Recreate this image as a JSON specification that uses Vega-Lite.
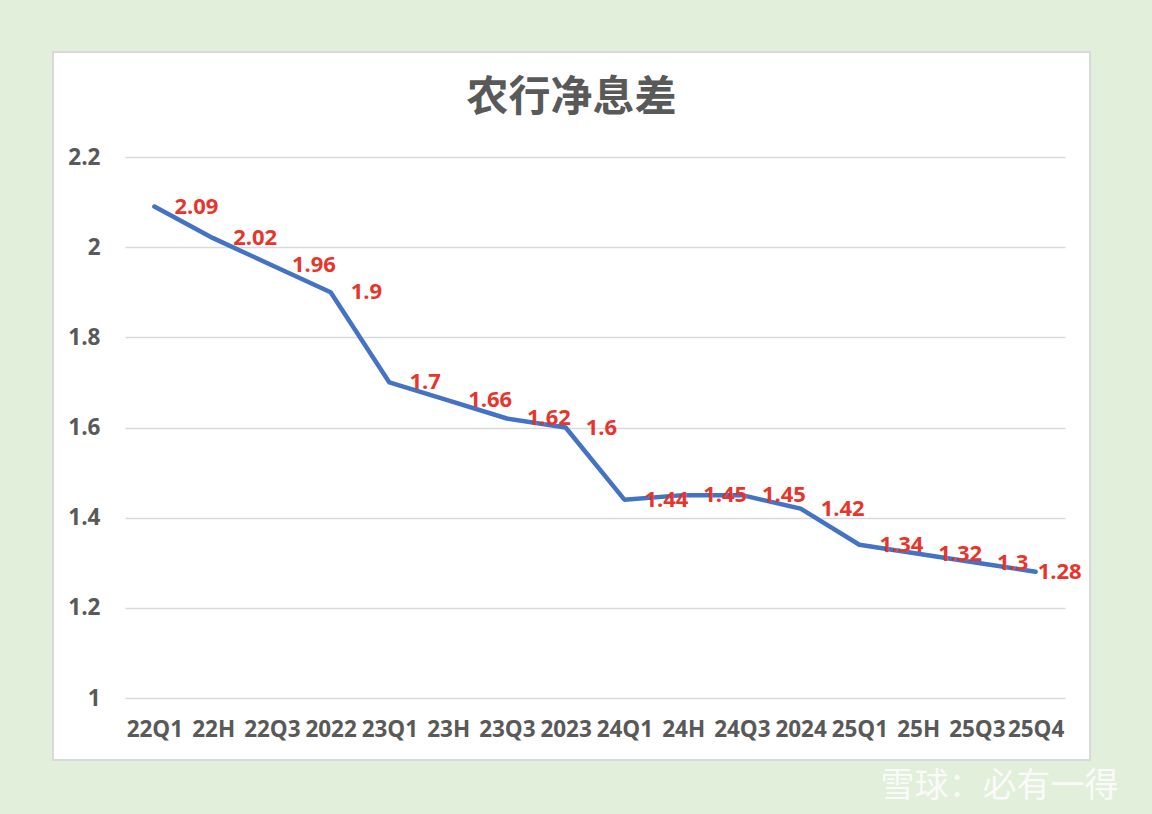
{
  "$schema": "https://vega.github.io/schema/vega-lite/v6.json",
  "width": 1037,
  "height": 708,
  "autosize": {"type": "none"},
  "padding": {"left": 53, "top": 52, "right": 62, "bottom": 54},
  "background": "#E2EFDA",
  "title": {
    "text": "农行净息差",
    "font": "Noto Sans CJK SC",
    "fontSize": 42,
    "fontWeight": "bold",
    "color": "#595959",
    "anchor": "middle",
    "frame": "group",
    "offset": -68
  },
  "config": {
    "view": {"fill": "#FFFFFF", "stroke": "#D9D9D9", "strokeWidth": 2}
  },
  "data": {
    "values": [
      {"period": "22Q1", "nim": 2.09},
      {"period": "22H", "nim": 2.02},
      {"period": "22Q3", "nim": 1.96},
      {"period": "2022", "nim": 1.9},
      {"period": "23Q1", "nim": 1.7},
      {"period": "23H", "nim": 1.66},
      {"period": "23Q3", "nim": 1.62},
      {"period": "2023", "nim": 1.6},
      {"period": "24Q1", "nim": 1.44},
      {"period": "24H", "nim": 1.45},
      {"period": "24Q3", "nim": 1.45},
      {"period": "2024", "nim": 1.42},
      {"period": "25Q1", "nim": 1.34},
      {"period": "25H", "nim": 1.32},
      {"period": "25Q3", "nim": 1.3},
      {"period": "25Q4", "nim": 1.28}
    ]
  },
  "encoding": {
    "x": {
      "field": "period",
      "type": "ordinal",
      "sort": null,
      "scale": {"type": "point", "range": [72, 1012], "padding": 0.5},
      "axis": {
        "orient": "bottom",
        "offset": -62,
        "domain": false,
        "ticks": false,
        "grid": false,
        "labelAngle": 0,
        "labelFont": "Open Sans",
        "labelFontSize": 22.5,
        "labelFontWeight": "bold",
        "labelColor": "#595959",
        "labelPadding": 20,
        "labelOverlap": false,
        "labelBound": false,
        "labelFlush": false,
        "title": "雪球：必有一得",
        "titleFont": "Noto Sans CJK SC",
        "titleFontSize": 34,
        "titleFontWeight": "normal",
        "titleColor": "#FAFAFA",
        "titleX": 1065,
        "titleY": 88,
        "titleAlign": "right",
        "titleBaseline": "middle",
        "titleAnchor": "end"
      }
    },
    "y": {
      "field": "nim",
      "type": "quantitative",
      "scale": {"domain": [1, 2.2], "range": [646, 105], "nice": false, "zero": false},
      "axis": {
        "orient": "left",
        "offset": -72,
        "values": [1, 1.2, 1.4, 1.6, 1.8, 2, 2.2],
        "format": "~g",
        "domain": false,
        "ticks": false,
        "grid": true,
        "gridColor": "#D9D9D9",
        "gridWidth": 1.5,
        "labelFont": "Open Sans",
        "labelFontSize": 22.5,
        "labelFontWeight": "bold",
        "labelColor": "#595959",
        "labelPadding": 25,
        "title": null
      }
    }
  },
  "layer": [
    {
      "mark": {"type": "line", "color": "#4472C4", "strokeWidth": 4.5, "strokeJoin": "round", "strokeCap": "round"}
    },
    {
      "transform": [{"filter": "datum.period != '25Q4'"}],
      "mark": {"type": "text", "align": "left", "baseline": "middle", "dx": 20, "font": "Open Sans", "fontSize": 22, "fontWeight": "bold", "color": "#E8352B"},
      "encoding": {"text": {"field": "nim", "type": "nominal"}}
    },
    {
      "transform": [{"filter": "datum.period == '25Q4'"}],
      "mark": {"type": "text", "align": "left", "baseline": "middle", "dx": 2, "font": "Open Sans", "fontSize": 22, "fontWeight": "bold", "color": "#E8352B"},
      "encoding": {"text": {"field": "nim", "type": "nominal"}}
    }
  ]
}
